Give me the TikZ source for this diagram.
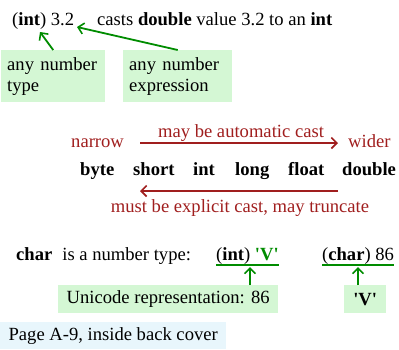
\documentclass[tikz,border=0pt]{standalone}
\usepackage{fontspec}
\setmainfont{Liberation Serif}
\usetikzlibrary{positioning, calc, arrows.meta}
\definecolor{castgreen}{RGB}{0,140,0}
\definecolor{notegreen}{RGB}{212,247,212}
\definecolor{castred}{RGB}{160,30,30}
\definecolor{pageblue}{RGB}{232,246,252}

\begin{document}
\begin{tikzpicture}[
    x=1pt, y=-1pt,
    >={Straight Barb[length=5.5pt, width=11pt, line width=1.6pt]},
    txt/.style={font=\fontsize{18.6}{21}\selectfont, inner sep=0pt, anchor=base west},
    redtxt/.style={txt, text=castred},
    note/.style={txt, fill=notegreen, anchor=north west, align=left, inner xsep=6pt, inner ysep=0pt, minimum height=52pt},
    shortnote/.style={txt, fill=notegreen, anchor=north west, inner xsep=6pt, inner ysep=0pt, minimum height=28pt},
    garrow/.style={->, draw=castgreen, line width=1.8pt},
    rarrow/.style={->, draw=castred, line width=1.8pt},
    uline/.style={draw=castgreen, line width=1.6pt}
]
    \useasboundingbox (0,0) rectangle (399,349);

    % Cast syntax
    \node[txt] (cast) at (12,25) {(\textbf{int}) 3.2};
    \node[txt] (castnote) at (97,25) {casts \textbf{double} value 3.2 to an \textbf{int}};
    \coordinate (typept) at (40,32);
    \coordinate (exprpt) at (77,27);
    \node[note, text width=92pt] (typebox) at (1,50) {any number\\type};
    \node[note, text width=97pt] (exprbox) at (123,50) {any number\\expression};
    \draw[garrow] (typebox.north) -- (typept);
    \draw[garrow] (exprbox.north) -- (exprpt);

    % Narrow to wider
    \node[redtxt] (narrow) at (71,147) {narrow};
    \node[redtxt] (wider) at (348,147) {wider};
    \coordinate (autoL) at (140,143);
    \coordinate (autoR) at (338,143);
    \draw[rarrow] (autoL) -- (autoR);
    \node[redtxt, anchor=base] (autolbl) at (241,137) {may be automatic cast};

    % Types
    \node[txt] (byte) at (80,175) {\textbf{byte}};
    \node[txt] (short) at (133,175) {\textbf{short}};
    \node[txt] (int) at (193,175) {\textbf{int}};
    \node[txt] (long) at (235,175) {\textbf{long}};
    \node[txt] (float) at (288,175) {\textbf{float}};
    \node[txt] (double) at (342,175) {\textbf{double}};

    % Wider to narrow
    \coordinate (explR) at (338,191);
    \coordinate (explL) at (140,191);
    \draw[rarrow] (explR) -- (explL);
    \node[redtxt, anchor=base] (expllbl) at (240,212) {must be explicit cast, may truncate};

    % char
    \node[txt] (chartype) at (16,260) {\textbf{char}\hspace{10pt}is a number type:};
    \node[txt] (intV) at (216,260) {(\textbf{int}) \textcolor{castgreen}{\textbf{\textquotesingle V\textquotesingle}}};
    \node[txt] (charnum) at (322,260) {(\textbf{char}) 86};
    \draw[uline] ([yshift=-5pt]intV.base west) -- ([yshift=-5pt]intV.base east);
    \draw[uline] ([yshift=-5pt]charnum.base west) -- ([yshift=-5pt]charnum.base east);
    \node[shortnote, minimum width=220pt] (unibox) at (58,285) {Unicode representation: 86\hfill};
    \node[shortnote, minimum width=42pt] (vbox) at (344,285) {\textbf{\textquotesingle V\textquotesingle}};
    \coordinate (intVpt) at (250,267);
    \coordinate (charpt) at (358,267);
    \draw[garrow] (intVpt |- unibox.north) -- (intVpt);
    \draw[garrow] (charpt |- vbox.north) -- (charpt);

    % Page
    \node[shortnote, fill=pageblue, inner xsep=8pt, minimum width=226pt, minimum height=27pt] (page) at (0,322) {Page A-9, inside back cover};
\end{tikzpicture}
\end{document}
